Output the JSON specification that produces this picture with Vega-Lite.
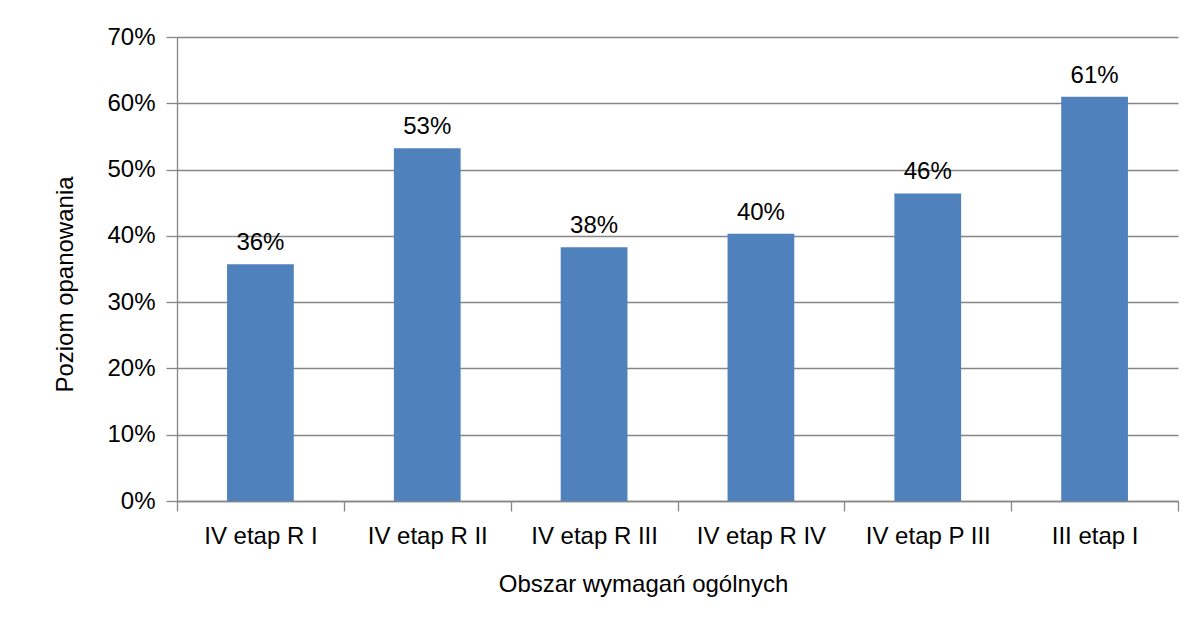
{
  "$schema": "https://vega.github.io/schema/vega-lite/v6.json",
  "autosize": "none",
  "width": 1001,
  "height": 464,
  "padding": {"left": 177, "top": 37, "right": 11, "bottom": 127},
  "background": "white",
  "config": {
    "view": {"stroke": null},
    "font": "Liberation Sans",
    "axis": {
      "labelFont": "Liberation Sans",
      "titleFont": "Liberation Sans",
      "labelFontSize": 24,
      "titleFontSize": 24,
      "labelColor": "#000000",
      "titleColor": "#000000",
      "titleFontWeight": "normal",
      "domainColor": "#868686",
      "tickColor": "#868686",
      "gridColor": "#868686",
      "domainWidth": 1.3,
      "tickWidth": 1.3,
      "gridWidth": 1.3
    }
  },
  "data": {
    "values": [
      {"obszar": "IV etap R I", "poziom": 0.357},
      {"obszar": "IV etap R II", "poziom": 0.532},
      {"obszar": "IV etap R III", "poziom": 0.383},
      {"obszar": "IV etap R IV", "poziom": 0.403},
      {"obszar": "IV etap P III", "poziom": 0.464},
      {"obszar": "III etap I", "poziom": 0.61}
    ]
  },
  "encoding": {
    "x": {
      "field": "obszar",
      "type": "nominal",
      "sort": null,
      "scale": {"paddingInner": 0, "paddingOuter": 0},
      "axis": {
        "title": "Obszar wymagań ogólnych",
        "labelAngle": 0,
        "tickBand": "extent",
        "tickSize": 10,
        "labelPadding": 32,
        "labelBaseline": "alphabetic",
        "titleAnchor": null,
        "titleX": 466,
        "titleY": 90,
        "titleBaseline": "alphabetic",
        "titleAlign": "center"
      }
    },
    "y": {
      "field": "poziom",
      "type": "quantitative",
      "scale": {"domain": [0, 0.7], "nice": false},
      "axis": {
        "title": "Poziom opanowania",
        "values": [0, 0.1, 0.2, 0.3, 0.4, 0.5, 0.6, 0.7],
        "format": ".0%",
        "tickSize": 11,
        "labelPadding": 11,
        "titleAnchor": null,
        "titleX": -105,
        "titleY": 247,
        "titleAngle": -90,
        "titleBaseline": "alphabetic",
        "titleAlign": "center"
      }
    }
  },
  "layer": [
    {
      "mark": {"type": "bar", "color": "#4F81BD", "width": {"band": 0.4}}
    },
    {
      "mark": {"type": "text", "dy": -14, "baseline": "alphabetic", "fontSize": 24, "color": "#000000", "font": "Liberation Sans"},
      "encoding": {
        "text": {"field": "poziom", "type": "quantitative", "format": ".0%"}
      }
    }
  ]
}
